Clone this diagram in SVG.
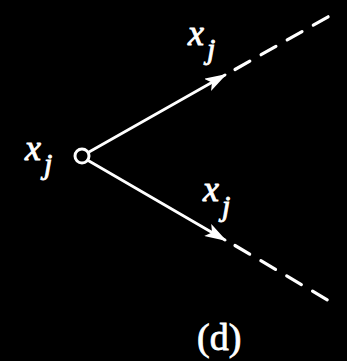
<svg xmlns="http://www.w3.org/2000/svg" width="347" height="361" viewBox="0 0 347 361">
<style>
.ln{stroke:#fff;stroke-width:2.8;fill:none;stroke-linecap:round}
.dash{stroke:#fff;stroke-width:3.2;fill:none;stroke-dasharray:17 13;stroke-linecap:round}
.t{fill:#fff;stroke:#fff;stroke-width:0.9;font-family:"Liberation Serif",serif;font-style:italic}
.lbl{fill:#fff;stroke:#fff;stroke-width:0.8;font-family:"Liberation Serif",serif;font-size:38px}
</style>
<defs>
<marker id="ah" viewBox="0 0 22 14" refX="20" refY="7" markerWidth="22" markerHeight="14" markerUnits="userSpaceOnUse" orient="auto">
<path d="M0,0 L22,7 L0,14 L5,7 Z" fill="#fff"/>
</marker>
</defs>
<rect width="347" height="361" fill="#000"/>
<g id="connectors">
<line class="ln" x1="89" y1="152" x2="225" y2="75" marker-end="url(#ah)"/>
<line class="dash" x1="235" y1="69.5" x2="333" y2="14"/>
<line class="ln" x1="89" y1="161" x2="225" y2="240" marker-end="url(#ah)"/>
<line class="dash" x1="235" y1="245.5" x2="331" y2="302"/>
</g>
<g id="node-xj">
<circle cx="82" cy="156" r="7" fill="#000" stroke="#fff" stroke-width="3"/>
<text class="t" x="25" y="160" font-size="36">x</text>
<text class="t" x="44" y="174" font-size="30">j</text>
</g>
<g id="label-upper">
<text class="t" x="188" y="45" font-size="36">x</text>
<text class="t" x="207" y="59" font-size="30">j</text>
</g>
<g id="label-lower">
<text class="t" x="203" y="201" font-size="36">x</text>
<text class="t" x="222" y="216" font-size="30">j</text>
</g>
<text class="lbl" x="197" y="350">(d)</text>
</svg>
